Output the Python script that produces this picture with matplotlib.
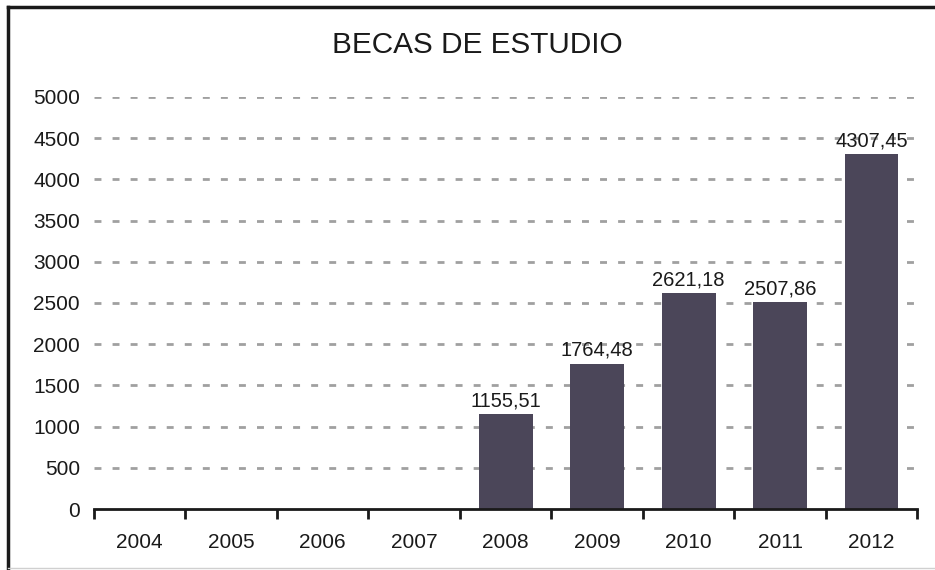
import matplotlib
matplotlib.use('Agg')
import matplotlib.pyplot as plt
from matplotlib.lines import Line2D

plt.rcParams['font.family'] = ['Liberation Sans', 'DejaVu Sans']

years = ['2004', '2005', '2006', '2007', '2008', '2009', '2010', '2011', '2012']
becas = [0, 0, 0, 0, 1155.51, 1764.48, 2621.18, 2507.86, 4307.45]
yticks = [0, 500, 1000, 1500, 2000, 2500, 3000, 3500, 4000, 4500, 5000]

bar_color = '#4b4659'

fig = plt.figure(figsize=(9.35, 5.70), dpi=100)
ax = fig.add_axes([0.1005, 0.107, 0.8805, 0.723])

x = list(range(len(years)))
bars = ax.bar(x, becas, width=0.59, color=bar_color, zorder=3)

# etiquetas de datos (solo valores no nulos)
for xi, v in zip(x, becas):
    if v > 0:
        txt = ('%.2f' % v).replace('.', ',')
        ax.text(xi, v + 45, txt, ha='center', va='bottom', fontsize=14.5, color='#1a1a1a')

ax.set_xlim(-0.5, len(years) - 0.5)
ax.set_ylim(0, 5000)
ax.set_yticks(yticks)
ax.set_yticklabels([str(t) for t in yticks], fontsize=15, color='#1a1a1a')
ax.set_xticks(x)
ax.set_xticklabels(years, fontsize=15, color='#1a1a1a')
ax.set_xticks([i - 0.5 for i in range(len(years) + 1)], minor=True)

ax.tick_params(axis='y', length=0, pad=10)
ax.tick_params(axis='x', which='major', length=0, pad=17)
ax.tick_params(axis='x', which='minor', length=7, width=2, color='#1a1a1a', direction='out')

for yt in yticks[1:]:
    ax.axhline(yt, color='#a0a0a0', lw=2, ls=(0, (2.5, 4)), zorder=1)

for s in ['top', 'right', 'left']:
    ax.spines[s].set_visible(False)
ax.spines['bottom'].set_linewidth(2)
ax.spines['bottom'].set_color('#1a1a1a')
ax.spines['bottom'].set_zorder(4)

fig.text(477 / 935, 0.921, 'BECAS DE ESTUDIO', ha='center', va='center', fontsize=21.4, color='#1a1a1a')

# marco exterior
fig.add_artist(Line2D([8 / 935, 8 / 935], [0.0, 1 - 7 / 570], transform=fig.transFigure, color='#1a1a1a', lw=2.5))
fig.add_artist(Line2D([8 / 935, 1.0], [1 - 7 / 570, 1 - 7 / 570], transform=fig.transFigure, color='#1a1a1a', lw=2.5))
fig.add_artist(Line2D([8 / 935, 1.0], [1 - 568 / 570, 1 - 568 / 570], transform=fig.transFigure, color='#d0d0d0', lw=1))

fig.savefig('out.png', dpi=100)
